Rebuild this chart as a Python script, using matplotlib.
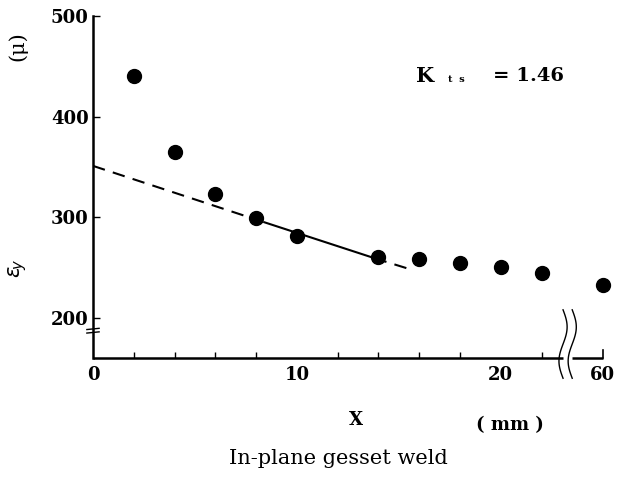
import matplotlib
matplotlib.use("Agg")
import matplotlib.pyplot as plt
import numpy as np

# measured strain along the gusset (x in mm, strain in micro)
x_mm = [2, 4, 6, 8, 10, 14, 16, 18, 20, 22, 60]
eps_y = [440, 365, 323, 299, 281, 260, 258, 255, 251, 245, 233]

# straight-line extrapolation
fit_x = [0, 8.4, 14, 15.6]
fit_y = [351, 295, 258, 248]

x_tick_vals = [0, 10, 20, 60]
y_tick_vals = [200, 300, 400, 500]
kts_value = "1.46"

# broken x axis: everything past 22 mm is squeezed to the right end
BREAK_REAL = 60
BREAK_POS = 25


def to_axis(x):
    x = np.asarray(x, dtype=float)
    return np.where(x >= BREAK_REAL, BREAK_POS, x)


serif = "DejaVu Serif"
plt.rcParams["font.family"] = serif

fig = plt.figure(figsize=(6.17, 4.82), dpi=100)
ax = fig.add_axes([0.1507, 0.257, 0.977 - 0.1507, 0.967 - 0.257])

ax.plot(to_axis(x_mm), eps_y, "o", color="black", markersize=10, clip_on=False)

# fitted line: dashed - solid - dashed
ax.plot(fit_x[0:2], fit_y[0:2], color="black", lw=1.5, linestyle=(0, (6, 4)))
ax.plot(fit_x[1:3], fit_y[1:3], color="black", lw=1.5)
ax.plot(fit_x[2:4], fit_y[2:4], color="black", lw=1.5, linestyle=(2, (6, 4)))

ax.set_xlim(0, BREAK_POS)
ax.set_ylim(160, 500)

for side in ["top", "right", "bottom"]:
    ax.spines[side].set_visible(False)
ax.spines["left"].set_linewidth(1.8)

# bottom axis drawn in two pieces with a gap for the break
ax.plot([0, 23.05], [160, 160], color="black", lw=1.8, clip_on=False,
        solid_capstyle="butt")
ax.plot([23.5, BREAK_POS], [160, 160], color="black", lw=1.8, clip_on=False,
        solid_capstyle="butt")

# wavy break marks on the x axis
s = np.linspace(0, 1, 60)
for cx in [23.05, 23.5]:
    ax.plot(cx + 0.2 * np.sin(2 * np.pi * s), 208 - 68 * s, color="black",
            lw=1.0, clip_on=False)
# small end tick at the 60 position
ax.plot([BREAK_POS, BREAK_POS], [160, 168], color="black", lw=1.2, clip_on=False)

# break marks on the y axis
for yb in [189, 185.5]:
    ax.plot([-0.3, 0.3], [yb - 0.6, yb + 0.6], color="black", lw=1.0,
            clip_on=False)

ax.set_xticks(to_axis(x_tick_vals))
ax.set_xticklabels([str(v) for v in x_tick_vals])
ax.set_xticks([2, 4, 6, 8, 12, 14, 16, 18, 22], minor=True)
ax.set_yticks(y_tick_vals)
ax.set_yticklabels([str(v) for v in y_tick_vals])
ax.tick_params(axis="both", direction="in", length=5, width=1.0,
               labelsize=13, pad=6)
ax.tick_params(axis="x", which="minor", direction="in", length=4, width=1.0)
ax.tick_params(axis="x", which="major", bottom=False)
ax.tick_params(axis="y", pad=3)
for lab in ax.get_xticklabels() + ax.get_yticklabels():
    lab.set_fontweight("bold")

W, H = 617, 482


def fx(px):
    return px / W


def fy(py):
    return 1 - py / H


fig.text(fx(18), fy(46), "(μ)", rotation=90, ha="center", va="center",
         fontsize=15)
fig.text(fx(18), fy(268), r"$\varepsilon_{\!y}$", rotation=90, ha="center",
         va="center", fontsize=15)

fig.text(fx(416), fy(76), "K", ha="left", va="center", fontsize=15,
         fontweight="bold")
fig.text(fx(448), fy(80), "t  s", ha="left", va="center", fontsize=7,
         fontweight="bold")
fig.text(fx(493), fy(76), "= " + kts_value, ha="left", va="center",
         fontsize=14, fontweight="bold")

fig.text(fx(356), fy(420), "X", ha="center", va="center", fontsize=13,
         fontweight="bold")
fig.text(fx(510), fy(425), "( mm )", ha="center", va="center", fontsize=13,
         fontweight="bold")
fig.text(fx(338), fy(458), "In-plane gesset weld", ha="center", va="center",
         fontsize=15)

fig.savefig("out.png", dpi=100)
